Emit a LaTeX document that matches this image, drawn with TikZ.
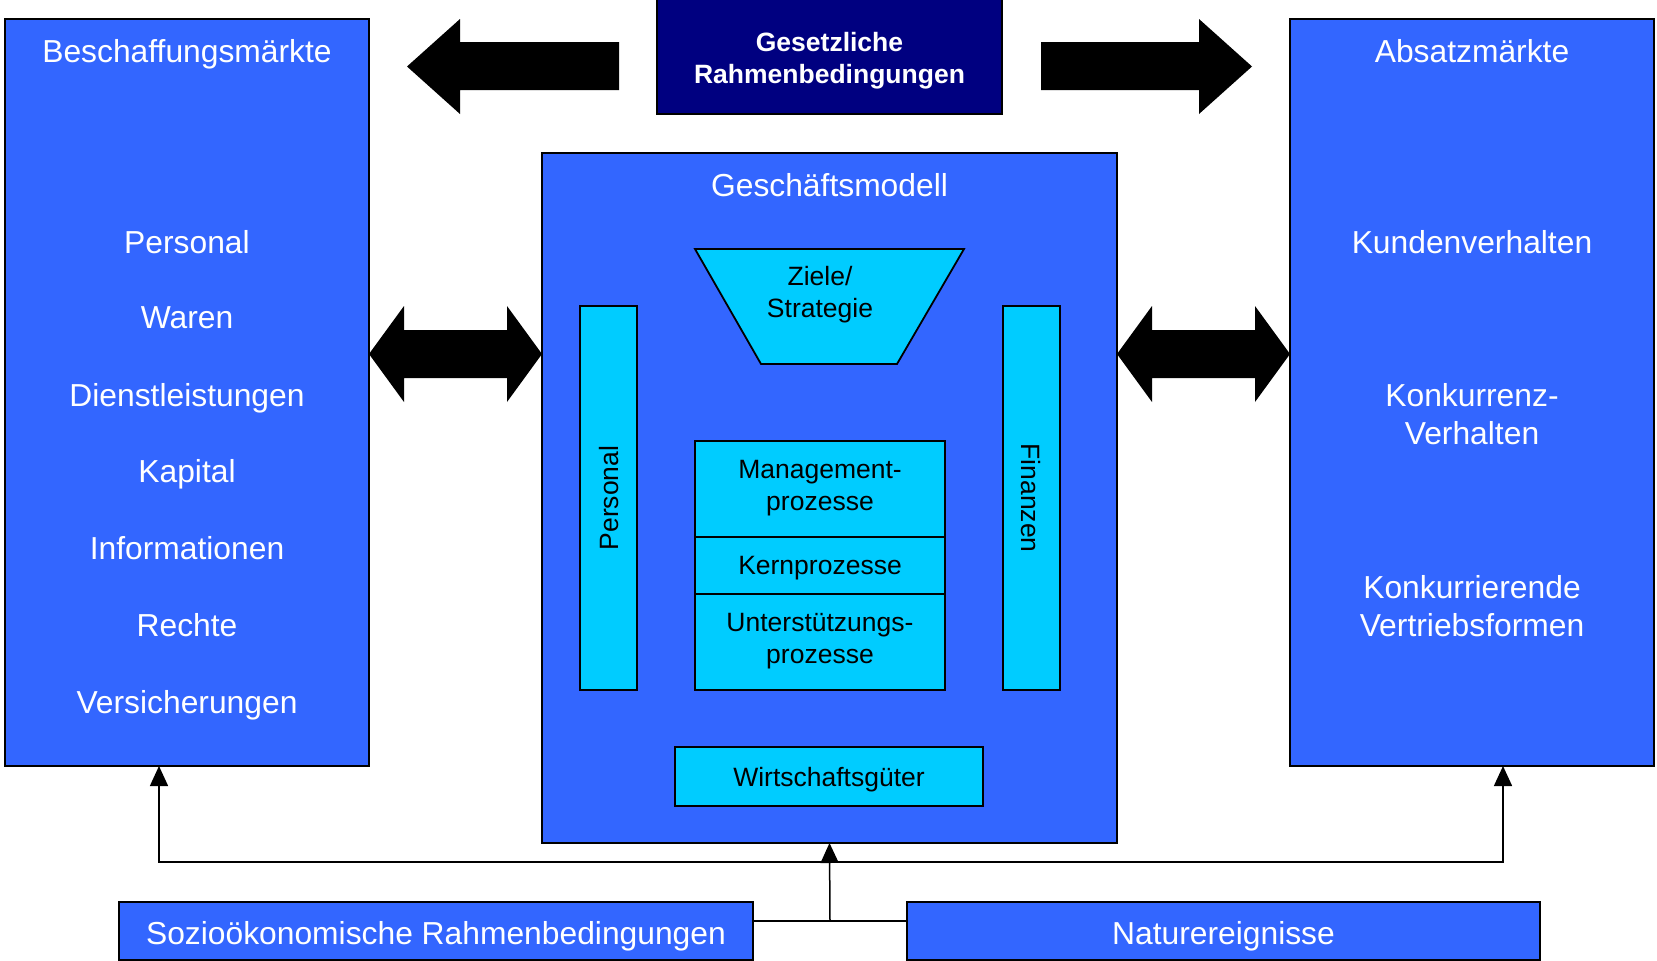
\documentclass[tikz,border=0pt]{standalone}
\usepackage{fontspec}
\setmainfont{Liberation Sans}
\usetikzlibrary{arrows.meta}
\definecolor{boxblue}{HTML}{3366FF}
\definecolor{boxcyan}{HTML}{00CCFF}
\definecolor{lawnavy}{HTML}{000080}
\begin{document}
\begin{tikzpicture}[x=1pt,y=-1pt,
  frame/.style={draw=black,line width=1.8pt,inner sep=0pt,outer sep=0pt},
  bluebox/.style={frame,fill=boxblue},
  cyanbox/.style={frame,fill=boxcyan},
  navybox/.style={frame,fill=lawnavy},
  bigtxt/.style={text=white,font=\fontsize{31.8}{38}\selectfont,align=center,inner sep=0pt},
  smalltxt/.style={text=black,font=\fontsize{26.5}{32}\selectfont,align=center,inner sep=0pt},
  lawtxt/.style={text=white,font=\bfseries\fontsize{26.5}{31.5}\selectfont,align=center,inner sep=0pt},
  nodesc/.style={text depth=0pt},
  bigarrow/.style={fill=black},
  link/.style={line width=1.5pt},
  linkarrow/.style={link,-{Triangle[width=18pt,length=20pt]}}]

\useasboundingbox (0,0) rectangle (1657,961);
\fill[white] (0,0) rectangle (1657,961);

% market boxes
\node[bluebox,minimum width=364pt,minimum height=747pt] (lm) at (187,392.5) {};
\node[bluebox,minimum width=364pt,minimum height=747pt] (rm) at (1472,392.5) {};

% business model frame
\node[bluebox,minimum width=575pt,minimum height=690pt] (gm) at (829.5,498) {};

% legal framework
\node[navybox,minimum width=345pt,minimum height=115pt] (law) at (829.5,56.5) {};
\node[lawtxt] (lawt) at (829.5,60.5) {Gesetzliche\\Rahmenbedingungen};

% big block arrows
\fill[bigarrow] (619,42) -- (460,42) -- (460,19) -- (407,66.5) -- (460,114) -- (460,90) -- (619,90) -- cycle;
\fill[bigarrow] (1041,42) -- (1199,42) -- (1199,19) -- (1252,66.5) -- (1199,114) -- (1199,90) -- (1041,90) -- cycle;
\fill[bigarrow] (369,354) -- (404,306) -- (404,330) -- (507,330) -- (507,306) -- (542,354)
  -- (507,402) -- (507,378) -- (404,378) -- (404,402) -- cycle;
\fill[bigarrow] (1117,354) -- (1152,306) -- (1152,330) -- (1255,330) -- (1255,306) -- (1290,354)
  -- (1255,402) -- (1255,378) -- (1152,378) -- (1152,402) -- cycle;

% left market texts
\node[bigtxt,nodesc] (lmt) at (187,51) {Beschaffungsmärkte};
\foreach \t/\y/\n in {Personal/242/l1,Waren/318/l2,Dienstleistungen/395/l3,Kapital/471/l4,
  Informationen/548/l5,Rechte/625/l6,Versicherungen/702/l7}
  \node[bigtxt,nodesc] (\n) at (187,\y) {\t};

% right market texts
\node[bigtxt,nodesc] (rmt) at (1472,51) {Absatzmärkte};
\node[bigtxt,nodesc] (r1) at (1472,242) {Kundenverhalten};
\node[bigtxt] (r2) at (1472,414) {Konkurrenz-\\Verhalten};
\node[bigtxt] (r3) at (1472,606) {Konkurrierende\\Vertriebsformen};

% business model contents
\node[bigtxt,nodesc] (gmt) at (829.5,185) {Geschäftsmodell};
\filldraw[fill=boxcyan,draw=black,line width=1.8pt]
  (695,249) -- (964,249) -- (897,364) -- (761,364) -- cycle;
\node[smalltxt] (zs) at (820,295) {Ziele/\\Strategie};

\node[cyanbox,minimum width=57pt,minimum height=384pt] (pers) at (608.5,498) {};
\node[smalltxt,nodesc,rotate=90] (perst) at (608.5,498) {Personal};
\node[cyanbox,minimum width=57pt,minimum height=384pt] (fin) at (1031.5,498) {};
\node[smalltxt,nodesc,rotate=-90] (fint) at (1031.5,498) {Finanzen};

\node[cyanbox,minimum width=250pt,minimum height=96pt] (mp) at (820,489) {};
\node[smalltxt] (mpt) at (820,488) {Management-\\prozesse};
\node[cyanbox,minimum width=250pt,minimum height=57pt] (kp) at (820,565.5) {};
\node[smalltxt,nodesc] (kpt) at (820,565) {Kernprozesse};
\node[cyanbox,minimum width=250pt,minimum height=96pt] (up) at (820,642) {};
\node[smalltxt] (upt) at (820,641) {Unterstützungs-\\prozesse};

\node[cyanbox,minimum width=308pt,minimum height=59pt] (wg) at (829,776.5) {};
\node[smalltxt,nodesc] (wgt) at (829,776.5) {Wirtschaftsgüter};

% external influences
\node[bluebox,minimum width=634pt,minimum height=58pt] (soz) at (436,931) {};
\node[bigtxt,nodesc] (sozt) at (436,933) {Sozioökonomische Rahmenbedingungen};
\node[bluebox,minimum width=633pt,minimum height=58pt] (nat) at (1223.5,931) {};
\node[bigtxt,nodesc] (natt) at (1223.5,933) {Naturereignisse};

% connectors
\coordinate (j1) at (830,862);
\coordinate (j2) at (830,921);
\draw[link] ([yshift=10pt]soz.east) -- ([yshift=10pt]nat.west);
\draw[linkarrow] (j2) -- (gm.south);
\draw[linkarrow] (j1) -| ([xshift=-28pt]lm.south);
\draw[linkarrow] (j1) -| ([xshift=31pt]rm.south);
\end{tikzpicture}
\end{document}
